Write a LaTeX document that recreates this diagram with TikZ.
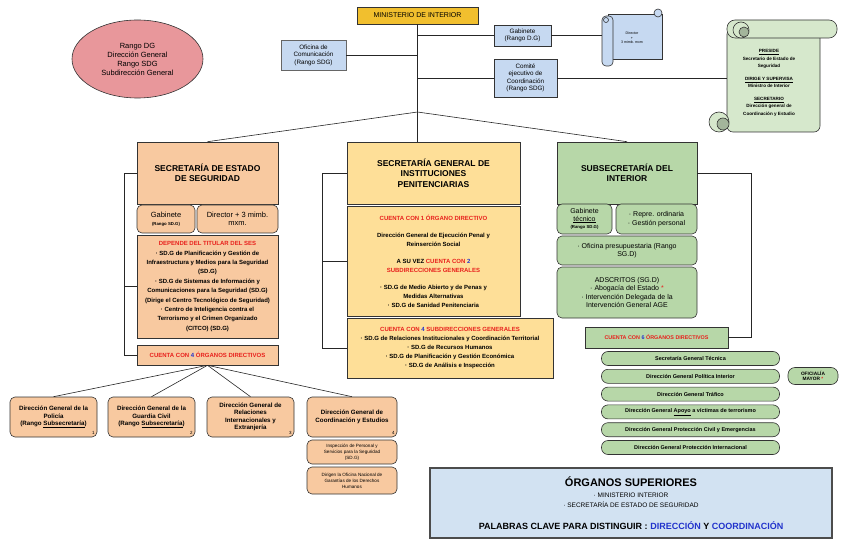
\documentclass[tikz,border=0pt]{standalone}
\usepackage{fontspec}
\setmainfont{Liberation Sans}
\usetikzlibrary{shapes.geometric,positioning}
\definecolor{gold}{HTML}{F1BF2E}
\definecolor{peach}{HTML}{F8C9A0}
\definecolor{straw}{HTML}{FEDF98}
\definecolor{sage}{HTML}{B7D7A8}
\definecolor{mint}{HTML}{D6E8CC}
\definecolor{moss}{HTML}{A3B59B}
\definecolor{sky}{HTML}{C6D9F1}
\definecolor{mist}{HTML}{D2E2F2}
\definecolor{rose}{HTML}{E8979B}
\definecolor{redt}{HTML}{E8201C}
\definecolor{bluet}{HTML}{2233CC}
\newcommand{\fz}[2]{\fontsize{#1}{#2}\selectfont}
\newcommand{\rd}[1]{\textcolor{redt}{#1}}
\newcommand{\bl}[1]{\textcolor{bluet}{#1}}
\tikzset{wh/.style 2 args={minimum width=#1pt,minimum height=#2pt}}

\begin{document}
\begin{tikzpicture}[x=1pt,y=-1pt,every node/.style={align=center,inner sep=1pt},
 box/.style={draw=black!80,line width=0.6pt},
 rbox/.style={box,rounded corners=5pt},
 tit/.style={font=\fz{8.5}{10.5}\bfseries},
 sm/.style={font=\fz{6}{9.4}\bfseries},
 pill/.style={rbox,fill=sage,rounded corners=6.5pt,wh={178}{14},font=\fz{5.5}{6}\bfseries},
 num/.style={anchor=south east,font=\fz{4.5}{5},inner sep=2.5pt},
 link/.style={draw=black!85,line width=0.6pt}]
\useasboundingbox (0,0) rectangle (848,553);
\node[box,ellipse,fill=rose,wh={131}{78},font=\fz{7.5}{9}] (rango) at (137.5,59) {Rango DG\\Dirección General\\Rango SDG\\Subdirección General};
% cabecera
\node[box,fill=gold,wh={121}{17},font=\fz{7}{8}] (min) at (417.5,15.5) {MINISTERIO DE INTERIOR};
\node[box,fill=sky,draw=black!60,wh={65}{30},font=\fz{6.3}{7.5}] (ofi) at (313.5,55) {Oficina de\\Comunicación\\(Rango SDG)};
\node[box,fill=sky,wh={57}{21},font=\fz{6.3}{7.5}] (gab) at (522.5,35.5) {Gabinete\\(Rango D.G)};
\node[box,fill=sky,wh={63}{38},font=\fz{6.3}{7.5}] (comite) at (525.5,78) {Comité\\ejecutivo de\\Coordinación\\(Rango SDG)};
\coordinate (hub) at (417.5,112);
% pergamino azul
\draw[box,fill=sky] (608,14) rectangle (662,59);
\draw[box,fill=sky,rounded corners=4pt] (602,16) rectangle (613,66);
\draw[box,fill=sky] (658,13) circle (4);
\draw[box] (606,20) circle (2.5);
\node[wh={60}{46},font=\fz{3.6}{4.6}] (dir) at (632,38) {Director\\+\\3 mimb. mxm};
% pergamino verde
\draw[box,fill=mint,rounded corners=6pt] (727,28) rectangle (820,132);
\draw[box,fill=mint,rounded corners=8pt] (727,20) rectangle (837,38);
\draw[box,fill=mint] (741,30) circle (8);
\draw[box,fill=moss] (744,32) circle (5);
\draw[box,fill=mint] (719,122) circle (10);
\draw[box,fill=moss] (723,124) circle (6);
\node[wh={84}{95},font=\fz{4.6}{7.5}\bfseries] (pres) at (769,83) {\underline{PRESIDE}\\Secretario de Estado de\\Seguridad\\[5pt]\underline{DIRIGE Y SUPERVISA}\\Ministro de Interior\\[5pt]\underline{SECRETARIO}\\Dirección general de\\Coordinación y Estudio};
\draw[link] (min.south) -- (hub);
\draw[link] (ofi.east) -- (ofi.east -| hub);
\draw[link] (gab.west -| hub) -- (gab.west);
\draw[link] (gab.east) -- (gab.east -| dir.west);
\draw[link] (comite.west -| hub) -- (comite.west);
\draw[link] (comite.east) -- (comite.east -| pres.west);
% secretaria de estado
\node[box,fill=peach,wh={141}{62},tit] (ses) at (207.5,173) {SECRETARÍA DE ESTADO\\DE SEGURIDAD};
\node[rbox,fill=peach,wh={58}{28},font=\fz{7.5}{8.5}] (sesgab) at (166,219) {Gabinete\\{\fz{4.3}{5}\bfseries(Rango SD.G)}};
\node[rbox,fill=peach,wh={81}{28},font=\fz{7.5}{8.5}] (sesdir) at (237.5,219) {Director + 3 mimb.\\mxm.};
\node[box,fill=peach,wh={141}{103},sm] (sesdep) at (207.5,286.5) {\rd{DEPENDE DEL TITULAR DEL SES}\\· SD.G de Planificación y Gestión de\\Infraestructura y Medios para la Seguridad\\(SD.G)\\· SD.G de Sistemas de Información y\\Comunicaciones para la Seguridad (SD.G)\\(Dirige el Centro Tecnológico de Seguridad)\\· Centro de Inteligencia contra el\\Terrorismo y el Crimen Organizado\\(CITCO) (SD.G)};
\node[box,fill=peach,wh={141}{20},sm] (sescta) at (207.5,355) {\rd{CUENTA CON \bl{4} ÓRGANOS DIRECTIVOS}};
\draw[link] (ses.west) -- ++(-12,0) |- (sescta.west);
\draw[link] (sesdep.west) -- ++(-12,0);
\node[rbox,fill=peach,wh={87}{40},font=\fz{6.2}{7.5}\bfseries,label={[num]south east:1}] (dg1) at (53.5,417) {Dirección General de la\\Policía\\(Rango \underline{Subsecretaría})};
\node[rbox,fill=peach,wh={87}{40},font=\fz{6.2}{7.5}\bfseries,label={[num]south east:2}] (dg2) at (151.5,417) {Dirección General de la\\Guardia Civil\\(Rango \underline{Subsecretaría})};
\node[rbox,fill=peach,wh={87}{40},font=\fz{6.2}{7.5}\bfseries,label={[num]south east:3}] (dg3) at (250.5,417) {Dirección General de\\Relaciones\\Internacionales y\\Extranjería};
\node[rbox,fill=peach,wh={90}{40},font=\fz{6.2}{7.5}\bfseries,label={[num]south east:4}] (dg4) at (352,417) {Dirección General de\\Coordinación y Estudios};
\node[rbox,fill=peach,wh={90}{24},font=\fz{4.6}{6}] (dg4a) at (352,452) {Inspección de Personal y\\Servicios para la Seguridad\\(SD.G)};
\node[rbox,fill=peach,wh={90}{27},font=\fz{4.6}{6}] (dg4b) at (352,480.5) {Dirigen la Oficina Nacional de\\Garantías de los Derechos\\Humanos};
\foreach \d in {dg1,dg2,dg3,dg4} \draw[link] (sescta.south) -- (\d.north);
% instituciones penitenciarias
\node[box,fill=straw,wh={173}{62},tit] (sgip) at (433.5,173) {SECRETARÍA GENERAL DE\\INSTITUCIONES\\PENITENCIARIAS};
\node[box,fill=straw,wh={173}{110},font=\fz{6}{9}\bfseries] (sgipdg) at (433.5,261) {\rd{CUENTA CON 1 ÓRGANO DIRECTIVO}\\[8pt]Dirección General de Ejecución Penal y\\Reinserción Social\\[8pt]A SU VEZ \rd{CUENTA CON} \bl{2}\\\rd{SUBDIRECCIONES GENERALES}\\[8pt]· SD.G de Medio Abierto y de Penas y\\Medidas Alternativas\\· SD.G de Sanidad Penitenciaria};
\node[box,fill=straw,wh={206}{60},font=\fz{6}{9}\bfseries] (sgipsub) at (450,348) {\rd{CUENTA CON \bl{4} SUBDIRECCIONES GENERALES}\\· SD.G de Relaciones Institucionales y Coordinación Territorial\\· SD.G de Recursos Humanos\\· SD.G de Planificación y Gestión Económica\\· SD.G de Análisis e Inspección};
\draw[link] (sgip.west) -- ++(-24,0) |- (sgipsub.west);
\draw[link] (sgipdg.west) -- ++(-24,0);
% subsecretaria
\node[box,fill=sage,wh={140}{62},tit] (subsec) at (627,173) {SUBSECRETARÍA DEL\\INTERIOR};
\node[rbox,fill=sage,wh={55}{30},font=\fz{7}{7.5}] (subgab) at (584.5,219) {Gabinete\\\underline{técnico}\\{\fz{4.3}{5}\bfseries(Rango SD.G)}};
\node[rbox,fill=sage,wh={81}{30},font=\fz{7}{8.5}] (subrep) at (656.5,219) {· Repre. ordinaria\\· Gestión personal};
\node[rbox,fill=sage,wh={140}{29},font=\fz{7}{8.5}] (subofi) at (627,250.5) {· Oficina presupuestaria (Rango\\SG.D)};
\node[rbox,fill=sage,wh={140}{51},font=\fz{7}{8.5}] (subads) at (627,292.5) {ADSCRITOS (SG.D)\\· Abogacía del Estado \rd{*}\\· Intervención Delegada de la\\Intervención General AGE};
\node[box,fill=sage,wh={143}{21},font=\fz{5.4}{6}\bfseries] (subcta) at (656.5,337.5) {\rd{CUENTA CON \bl{6} ÓRGANOS DIRECTIVOS}};
\draw[link] (subsec.east) -- ++(54,0) |- (subcta.east);
\foreach \txt [count=\k] in {Secretaría General Técnica,Dirección General Política Interior,Dirección General Tráfico,Dirección General \underline{Apoyo} a víctimas de terrorismo,Dirección General Protección Civil y Emergencias,Dirección General Protección Internacional}
  \node[pill] (org\k) at (690.5,{340.7+17.8*\k}) {\txt};
\node[rbox,fill=sage,rounded corners=7pt,wh={50}{17},font=\fz{4.8}{5.5}\bfseries] (ofm) at (813,376) {OFICIALÍA\\MAYOR \rd{*}};
% fan desde el ministerio
\draw[link] (hub) -- (ses.north);
\draw[link] (hub) -- (hub |- sgip.north);
\draw[link] (hub) -- (subsec.north);
% organos superiores
\node[box,fill=mist,draw=black!70,line width=1.3pt,wh={402}{70},font=\fz{6.5}{10}] (sup) at (631,503) {{\fz{11}{12}\bfseries ÓRGANOS SUPERIORES}\\[1pt]· MINISTERIO INTERIOR\\· SECRETARÍA DE ESTADO DE SEGURIDAD\\[12pt]{\fz{9}{10}\bfseries PALABRAS CLAVE PARA DISTINGUIR : \bl{DIRECCIÓN} Y \bl{COORDINACIÓN}}};
\end{tikzpicture}
\end{document}
